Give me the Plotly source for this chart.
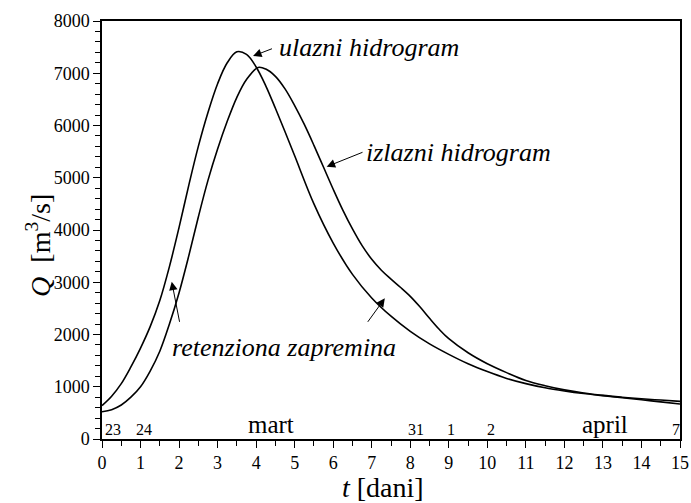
import plotly.graph_objects as go

# Inflow hydrograph (ulazni hidrogram), t in days, Q in m3/s
t_in = [0, 0.25, 0.5, 0.75, 1.0, 1.25, 1.5, 1.75, 2.0, 2.25, 2.5, 2.75, 3.0, 3.25,
        3.5, 3.75, 4.0, 4.25, 4.5, 4.75, 5.0, 5.5, 6.0, 6.5, 7.0, 7.5, 8.0, 8.5,
        9.0, 9.5, 10.0, 10.5, 11.0, 11.5, 12.0, 12.5, 13.0, 13.5, 14.0, 14.5, 15.0]
q_in = [640, 820, 1060, 1380, 1740, 2150, 2650, 3300, 4050, 4850, 5600, 6250, 6800, 7200,
        7410, 7360, 7120, 6760, 6330, 5880, 5420, 4500, 3750, 3150, 2700, 2350, 2060, 1820,
        1620, 1440, 1290, 1160, 1060, 980, 920, 870, 830, 790, 750, 710, 670]

# Outflow hydrograph (izlazni hidrogram)
t_out = [0, 0.25, 0.5, 0.75, 1.0, 1.25, 1.5, 1.75, 2.0, 2.25, 2.5, 2.75, 3.0, 3.25,
         3.5, 3.75, 4.05, 4.25, 4.5, 4.75, 5.0, 5.25, 5.5, 5.75, 6.0, 6.25, 6.5, 6.75,
         7.0, 7.25, 7.5, 7.75, 8.0, 8.25, 8.5, 8.75, 9.0, 9.5, 10.0, 10.5, 11.0, 11.5,
         12.0, 12.5, 13.0, 13.5, 14.0, 14.5, 15.0]
q_out = [520, 560, 650, 800, 1000, 1300, 1680, 2200, 2800, 3500, 4250, 4950, 5550, 6080,
         6540, 6880, 7110, 7080, 6940, 6700, 6380, 6020, 5620, 5200, 4780, 4380, 4020, 3700,
         3440, 3230, 3060, 2900, 2730, 2530, 2310, 2100, 1920, 1650, 1440, 1270, 1120, 1020,
         940, 880, 835, 800, 770, 745, 720]

# Calendar dates written along the time axis
date_t = [0.29, 1.09, 8.15, 9.06, 10.1, 14.9]
date_labels = ["23", "24", "31", "1", "2", "7"]
month_t = [4.39, 13.05]
month_labels = ["mart", "april"]

x_ticks = list(range(0, 16))
y_ticks = list(range(0, 8001, 1000))

FONT = "Liberation Serif"
BLACK = "black"

fig = go.Figure()
curve = dict(color=BLACK, width=1.6, shape="spline", smoothing=1.0)
fig.add_trace(go.Scatter(x=t_in, y=q_in, mode="lines", line=curve, name="ulazni hidrogram"))
fig.add_trace(go.Scatter(x=t_out, y=q_out, mode="lines", line=curve, name="izlazni hidrogram"))


def arrow(x, y, ax, ay):
    fig.add_annotation(x=x, y=y, ax=ax, ay=ay, xref="x", yref="y", axref="x", ayref="y",
                       text="", showarrow=True, arrowhead=2, arrowsize=1.7, arrowwidth=1,
                       arrowcolor=BLACK)


# Curve labels with arrows
lbl_font = dict(family=FONT, size=26, color=BLACK)
arrow(3.92, 7330, 4.45, 7480)
fig.add_annotation(x=4.55, y=7500, text="<i>ulazni hidrogram</i>", showarrow=False,
                   xanchor="left", yanchor="middle", font=lbl_font)

arrow(5.83, 5212, 6.8, 5499)
fig.add_annotation(x=6.8, y=5490, text="<i>izlazni hidrogram</i>", showarrow=False,
                   xanchor="left", yanchor="middle", font=lbl_font)

arrow(1.81, 3011, 2.02, 2214)
arrow(7.34, 2693, 6.87, 2214)
fig.add_annotation(x=1.76, y=1760, text="<i>retenziona zapremina</i>", showarrow=False,
                   xanchor="left", yanchor="middle", font=lbl_font)

# Dates and months along the bottom of the plot area
for t, s in zip(date_t, date_labels):
    fig.add_annotation(x=t, y=0, yshift=-1, text=s, showarrow=False, xanchor="center",
                       yanchor="bottom", font=dict(family=FONT, size=16, color=BLACK))
for t, s in zip(month_t, month_labels):
    fig.add_annotation(x=t, y=0, yshift=-1, text=s, showarrow=False, xanchor="center",
                       yanchor="bottom", font=dict(family=FONT, size=25, color=BLACK))

# Axis titles
fig.add_annotation(xref="paper", yref="paper", x=-0.111, y=0.464, textangle=-90,
                   text="<i>Q</i>  [m<sup>3</sup>/s]", showarrow=False,
                   xanchor="center", yanchor="middle", font=dict(family=FONT, size=28, color=BLACK))
fig.add_annotation(xref="paper", yref="paper", x=0.486, y=-0.117,
                   text="<i>t</i> [dani]", showarrow=False,
                   xanchor="center", yanchor="middle", font=dict(family=FONT, size=28, color=BLACK))

axis_common = dict(showgrid=False, zeroline=False, showline=True, linecolor=BLACK, linewidth=1.5,
                   mirror=True, ticks="outside", ticklen=7, tickwidth=1.2, tickcolor=BLACK,
                   automargin=False, tickfont=dict(family=FONT, size=18, color=BLACK))

fig.update_xaxes(range=[0, 15], tickvals=x_ticks, ticktext=[str(v) for v in x_ticks],
                 minor=dict(dtick=0.5, tick0=0, ticks="outside", ticklen=5, tickwidth=1, tickcolor=BLACK),
                 **axis_common)
fig.update_yaxes(range=[0, 8000], tickvals=y_ticks, ticktext=[str(v) for v in y_ticks],
                 minor=dict(dtick=200, tick0=0, ticks="outside", ticklen=5, tickwidth=1, tickcolor=BLACK),
                 **axis_common)

fig.update_layout(width=691, height=503, margin=dict(l=102, r=11, t=21, b=64),
                  plot_bgcolor="white", paper_bgcolor="white", showlegend=False)

fig.write_html("out.html")
